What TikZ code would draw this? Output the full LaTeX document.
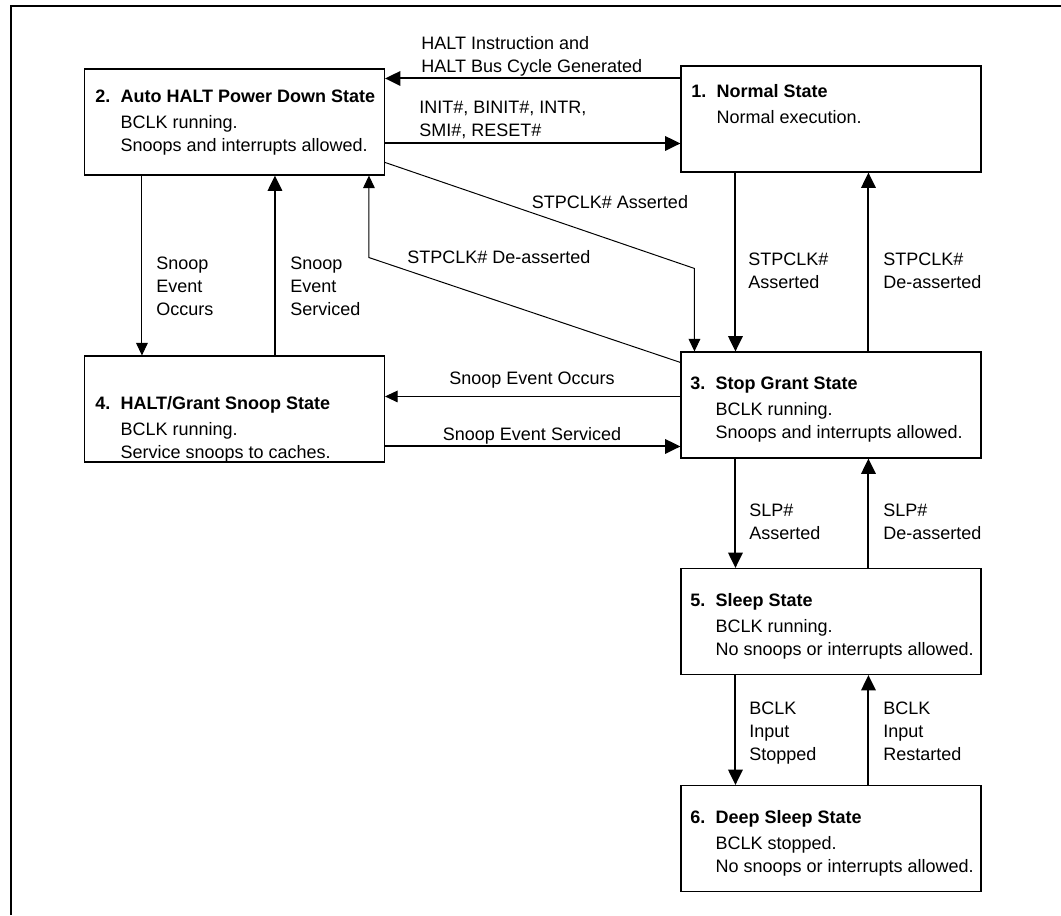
\documentclass[tikz,border=0pt]{standalone}
\usepackage{fontspec}
\setmainfont{Liberation Sans}
\usetikzlibrary{arrows.meta,calc}

\newlength{\numw}
\setlength{\numw}{14pt}
\newcommand{\lbl}[1]{\begin{tabular}[t]{@{}l@{}}#1\end{tabular}}
\newcommand{\sttext}[3]{\begin{tabular}[t]{@{}p{\numw}@{}l@{}}\bfseries #1 & \bfseries #2\\[1.5pt] #3\end{tabular}}

\tikzset{
  statebox/.style={draw, line width=0.6pt, minimum width=166.7pt, minimum height=58.9pt, inner sep=0pt},
  txt/.style={anchor=base west, inner sep=0pt, font=\fontsize{10}{13}\selectfont},
  thickarrow/.style={line width=1.1pt, -{Triangle[length=8.5pt,width=8pt]}},
  thinarrow/.style={line width=0.55pt, -{Triangle[length=7pt,width=6.5pt]}}
}

\begin{document}
\begin{tikzpicture}[x=0.5556pt,y=-0.5556pt]
\useasboundingbox (0,0) rectangle (1061,915);
% frame
\draw[line width=1.3pt] (11,915) -- (11,5.7) -- (1070,5.7);

% states
\node[statebox] (b1) at (831,119) {};
\node[statebox] (b2) at (234.5,122) {};
\node[statebox] (b3) at (831,405) {};
\node[statebox] (b4) at (234.5,409) {};
\node[statebox] (b5) at (831,621.5) {};
\node[statebox] (b6) at (831,838.5) {};

\node[txt] (t1) at (691,97) {\sttext{1.}{Normal State}{& Normal execution.}};
\node[txt] (t2) at (95,102) {\sttext{2.}{Auto HALT Power Down State}{& BCLK running.\\ & Snoops and interrupts allowed.}};
\node[txt] (t3) at (690,389) {\sttext{3.}{Stop Grant State}{& BCLK running.\\ & Snoops and interrupts allowed.}};
\node[txt] (t4) at (95,409) {\sttext{4.}{HALT/Grant Snoop State}{& BCLK running.\\ & Service snoops to caches.}};
\node[txt] (t5) at (690,606) {\sttext{5.}{Sleep State}{& BCLK running.\\ & No snoops or interrupts allowed.}};
\node[txt] (t6) at (690,823) {\sttext{6.}{Deep Sleep State}{& BCLK stopped.\\ & No snoops or interrupts allowed.}};

% transitions
\coordinate (c1) at ($(b1.north west)+(0,13)$);
\draw[thickarrow] (c1) -- (c1 -| b2.east);
\coordinate (c2) at ($(b2.north east)+(0,75)$);
\draw[thickarrow] (c2) -- (c2 -| b1.west);
\coordinate (c3) at ($(b2.north east)+(0,94)$);
\coordinate (c3k) at ($(b3.north west)+(14,-83)$);
\draw[thinarrow] (c3) -- (c3k) -- (c3k |- b3.north);
\coordinate (c4) at ($(b3.north west)+(0,11)$);
\coordinate (c4k) at ($(b2.south west)+(285,82)$);
\draw[thinarrow] (c4) -- (c4k) -- (c4k |- b2.south);
\coordinate (c5) at ($(b1.south west)+(55,0)$);
\draw[thickarrow] (c5) -- (c5 |- b3.north);
\coordinate (c6) at ($(b3.north west)+(188,0)$);
\draw[thickarrow] (c6) -- (c6 |- b1.south);
\coordinate (c7) at ($(b2.south west)+(58,0)$);
\draw[thinarrow] (c7) -- (c7 |- b4.north);
\coordinate (c8) at ($(b4.north west)+(191,0)$);
\draw[thickarrow] (c8) -- (c8 |- b2.south);
\coordinate (c9) at ($(b3.north west)+(0,45)$);
\draw[thinarrow] (c9) -- (c9 -| b4.east);
\coordinate (c10) at ($(b3.north west)+(0,95)$);
\draw[thickarrow] (c10 -| b4.east) -- (c10);
\coordinate (c11) at ($(b3.south west)+(55,0)$);
\draw[thickarrow] (c11) -- (c11 |- b5.north);
\coordinate (c12) at ($(b5.north west)+(188,0)$);
\draw[thickarrow] (c12) -- (c12 |- b3.south);
\coordinate (c13) at ($(b5.south west)+(55,0)$);
\draw[thickarrow] (c13) -- (c13 |- b6.north);
\coordinate (c14) at ($(b6.north west)+(188,0)$);
\draw[thickarrow] (c14) -- (c14 |- b5.south);

% labels
\node[txt] (lhalt) at (421,49) {\lbl{HALT Instruction and\\HALT Bus Cycle Generated}};
\node[txt] (linit) at (419,113) {\lbl{INIT\#, BINIT\#, INTR,\\SMI\#, RESET\#}};
\node[txt,anchor=base] (lsa) at (610,208) {STPCLK\# Asserted};
\node[txt,anchor=base] (lsd) at (499,263) {STPCLK\# De-asserted};
\node[txt] (lsa2) at (748,265) {\lbl{STPCLK\#\\Asserted}};
\node[txt] (lsd2) at (883,265) {\lbl{STPCLK\#\\De-asserted}};
\node[txt] (lso) at (156,269) {\lbl{Snoop\\Event\\Occurs}};
\node[txt] (lss) at (290,269) {\lbl{Snoop\\Event\\Serviced}};
\node[txt,anchor=base] (lso2) at (532,384) {Snoop Event Occurs};
\node[txt,anchor=base] (lss2) at (532,440) {Snoop Event Serviced};
\node[txt] (lslpa) at (749,516) {\lbl{SLP\#\\Asserted}};
\node[txt] (lslpd) at (883,516) {\lbl{SLP\#\\De-asserted}};
\node[txt] (lbs) at (749,714) {\lbl{BCLK\\Input\\Stopped}};
\node[txt] (lbr) at (883,714) {\lbl{BCLK\\Input\\Restarted}};
\end{tikzpicture}
\end{document}
